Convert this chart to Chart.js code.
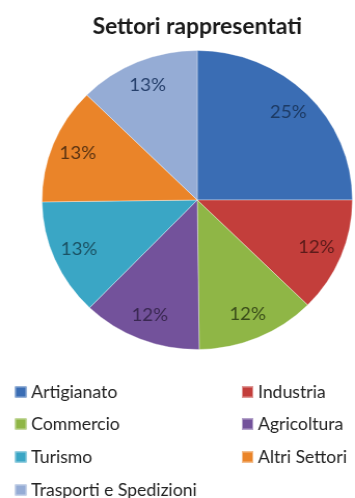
<!DOCTYPE html>
<html>
<head>
<meta charset="utf-8">
<script src="https://cdn.jsdelivr.net/npm/chart.js@4.4.1/dist/chart.umd.min.js"></script>
<style>
  html, body { margin: 0; padding: 0; background: #fff; }
  #grafico { display: block; }
</style>
</head>
<body>
<canvas id="grafico" width="342" height="498" style="width:355px;height:498px"></canvas>
<script>
// Dati del grafico
const titolo = "Settori rappresentati";
const settori = ["Artigianato", "Industria", "Commercio", "Agricoltura", "Turismo", "Altri Settori", "Trasporti e Spedizioni"];
const percentuali = [25, 12.4, 12.4, 12.4, 12.6, 12.6, 12.6];
const colori = ["#3a6db4", "#c33e3b", "#8fb646", "#73529b", "#3aa6c5", "#ea8429", "#95acd5"];
const coloriEtichette = ["#1d3a63", "#5c1b1a", "#3a4d1a", "#3a2852", "#1b5264", "#5a3312", "#26406c"];

const FONT = "Lato, 'Open Sans', sans-serif";

// Riempimento con leggero effetto bisello
function riempimento(ctx) {
    const chart = ctx.chart;
    const area = chart.chartArea;
    const base = colori[ctx.dataIndex];
    if (!area) return base;
    const meta = chart.getDatasetMeta(0);
    const arc = meta.data[ctx.dataIndex];
    if (!arc || !arc.outerRadius) return base;
    const g = chart.ctx.createRadialGradient(arc.x, arc.y, 0, arc.x, arc.y, arc.outerRadius);
    g.addColorStop(0, base);
    g.addColorStop(0.9, base);
    g.addColorStop(0.965, shade(base, 0.18));
    g.addColorStop(1, shade(base, -0.25));
    return g;
}

function shade(hex, p) {
    const n = parseInt(hex.slice(1), 16);
    let r = n >> 16, g = (n >> 8) & 255, b = n & 255;
    const t = p < 0 ? 0 : 255, k = Math.abs(p);
    r = Math.round(r + (t - r) * k);
    g = Math.round(g + (t - g) * k);
    b = Math.round(b + (t - b) * k);
    return `rgb(${r},${g},${b})`;
}

// Etichette percentuali sulle fette
const etichettePlugin = {
    id: "etichette",
    afterDatasetsDraw(chart) {
        const ctx = chart.ctx;
        const meta = chart.getDatasetMeta(0);
        ctx.save();
        ctx.font = `18px ${FONT}`;
        ctx.textAlign = "center";
        ctx.textBaseline = "middle";
        meta.data.forEach((arc, i) => {
            const ang = (arc.startAngle + arc.endAngle) / 2;
            const d = arc.outerRadius * 0.83;
            ctx.fillStyle = coloriEtichette[i];
            ctx.fillText(Math.round(percentuali[i]) + "%", arc.x + Math.cos(ang) * d, arc.y + Math.sin(ang) * d);
        });
        ctx.restore();
    }
};

// Legenda su due colonne
const legendaPlugin = {
    id: "legenda",
    afterDraw(chart) {
        const ctx = chart.ctx;
        const colX = [14.5, 233];
        const rigaY = [392, 424, 457, 490];
        ctx.save();
        ctx.font = `17px ${FONT}`;
        ctx.textBaseline = "middle";
        ctx.textAlign = "left";
        settori.forEach((nome, i) => {
            const x = colX[i % 2];
            const y = rigaY[Math.floor(i / 2)];
            ctx.fillStyle = colori[i];
            ctx.fillRect(x, y - 5.5, 11, 11);
            ctx.strokeStyle = shade(colori[i], 0.45);
            ctx.lineWidth = 1;
            ctx.strokeRect(x + 0.5, y - 5, 10, 10);
            ctx.fillStyle = "#222";
            ctx.fillText(nome, x + 15.5, y + 1);
        });
        ctx.restore();
    }
};

new Chart(document.getElementById("grafico"), {
    type: "pie",
    data: {
        labels: settori,
        datasets: [{
            data: percentuali,
            backgroundColor: riempimento,
            borderColor: "rgba(255,255,255,0.35)",
            borderWidth: 1
        }]
    },
    options: {
        responsive: false,
        animation: false,
        layout: { padding: { left: 40, right: 2, top: 0, bottom: 148 } },
        plugins: {
            legend: { display: false },
            tooltip: { enabled: false },
            title: {
                display: true,
                text: titolo,
                fullSize: false,
                color: "#1a1a1a",
                font: { family: FONT, size: 22, weight: "bold", lineHeight: 1.2 },
                padding: { top: 13.5, bottom: 10.1 }
            }
        }
    },
    plugins: [etichettePlugin, legendaPlugin]
});
</script>
</body>
</html>
